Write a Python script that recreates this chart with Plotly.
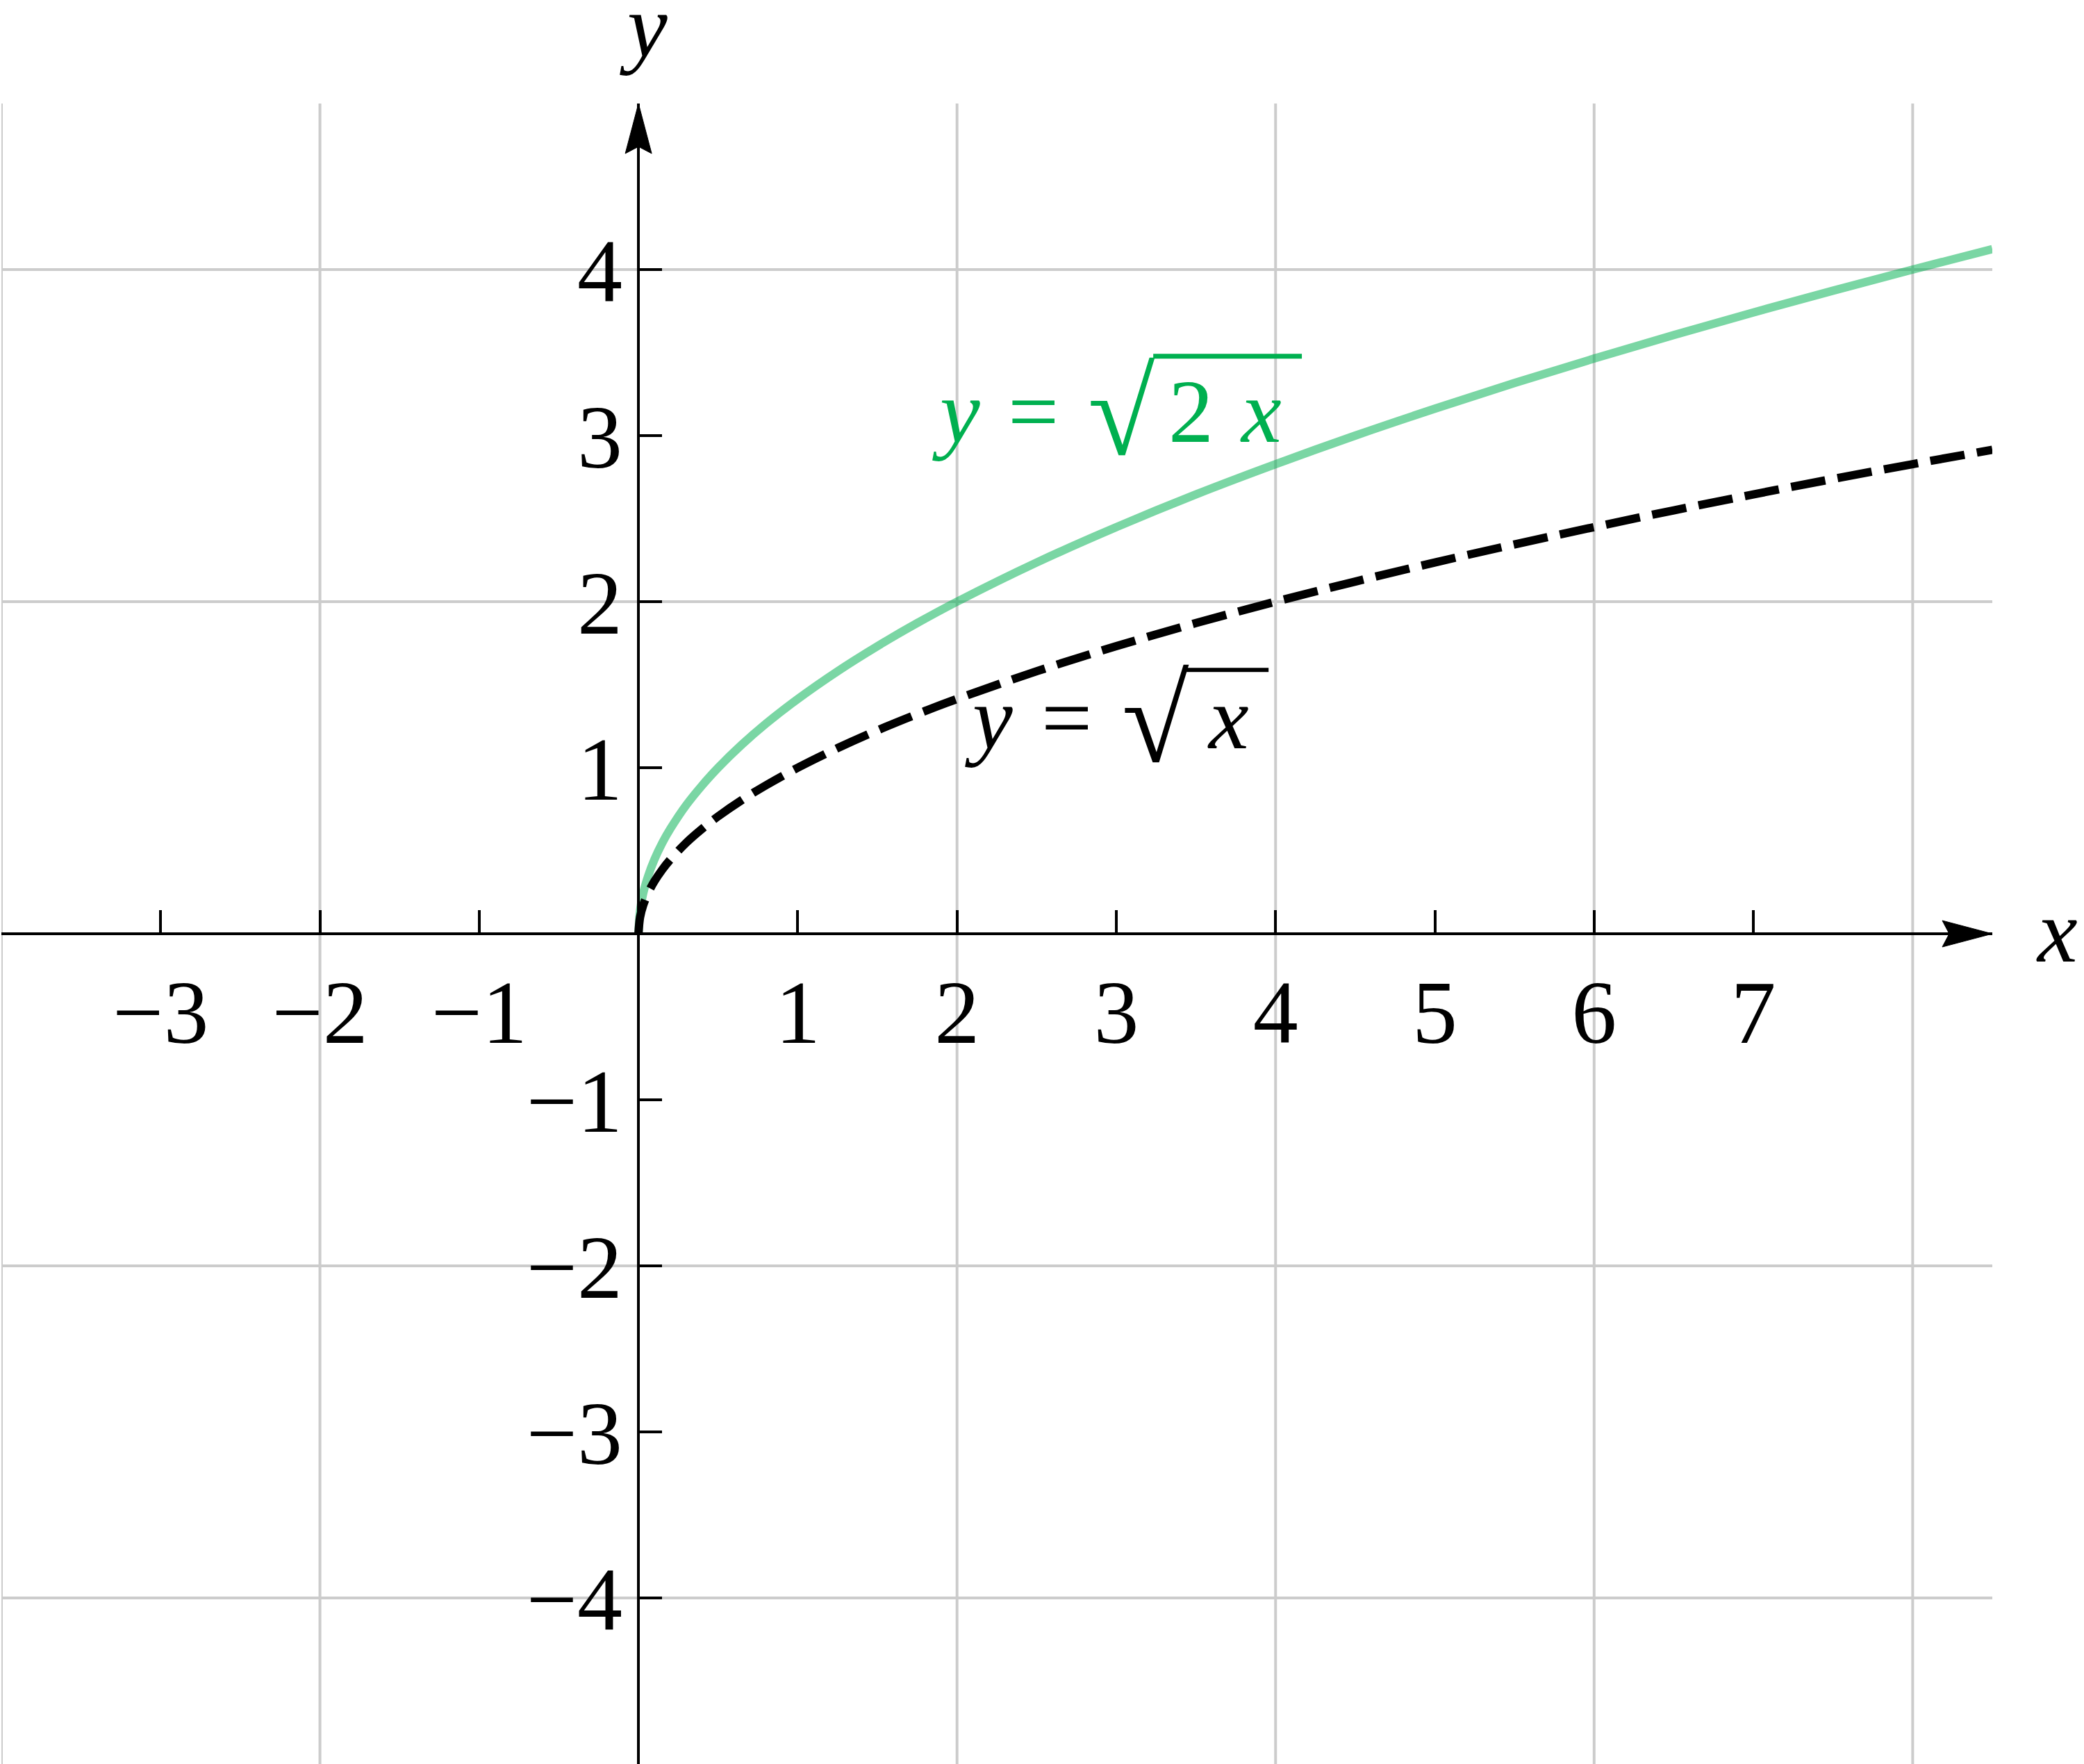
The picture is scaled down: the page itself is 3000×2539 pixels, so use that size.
import plotly.graph_objects as go

# ---- data ----
x_vals = [0, 0.01, 0.03, 0.06, 0.1, 0.15, 0.2, 0.3, 0.4, 0.5, 0.65, 0.8, 1, 1.25, 1.5,
          1.75, 2, 2.5, 3, 3.5, 4, 4.5, 5, 5.5, 6, 6.5, 7, 7.5, 8, 8.5]
y_sqrt2x = [0, 0.141, 0.245, 0.346, 0.447, 0.548, 0.632, 0.775, 0.894, 1.0, 1.14, 1.265,
            1.414, 1.581, 1.732, 1.871, 2.0, 2.236, 2.449, 2.646, 2.828, 3.0, 3.162, 3.317,
            3.464, 3.606, 3.742, 3.873, 4.0, 4.123]
y_sqrtx = [0, 0.1, 0.173, 0.245, 0.316, 0.387, 0.447, 0.548, 0.632, 0.707, 0.806, 0.894,
           1.0, 1.118, 1.225, 1.323, 1.414, 1.581, 1.732, 1.871, 2.0, 2.121, 2.236, 2.345,
           2.449, 2.55, 2.646, 2.739, 2.828, 2.915]

x_ticks = [-3, -2, -1, 1, 2, 3, 4, 5, 6, 7]
y_ticks = [-4, -3, -2, -1, 1, 2, 3, 4]
x_grid = [-4, -2, 2, 4, 6, 8]
y_grid = [-4, -2, 2, 4]
x_range = [-4, 8.5]
y_range = [-5, 5]

FONT = "Liberation Serif"
GREEN = "#00b050"
GRID = "#cccccc"
FS = 130
RAD_FS = 176

fig = go.Figure()

fig.add_trace(go.Scatter(
    x=x_vals, y=y_sqrt2x, mode="lines",
    line=dict(color="rgba(0,176,80,0.52)", width=12, shape="spline"),
    showlegend=False, hoverinfo="skip"))
fig.add_trace(go.Scatter(
    x=x_vals, y=y_sqrtx, mode="lines",
    line=dict(color="black", width=12, dash="50px,18px", shape="spline"),
    showlegend=False, hoverinfo="skip"))

shapes = []
for gx in x_grid:
    shapes.append(dict(type="line", xref="x", yref="y", x0=gx, x1=gx,
                       y0=y_range[0], y1=y_range[1], layer="below",
                       line=dict(color=GRID, width=4)))
for gy in y_grid:
    shapes.append(dict(type="line", xref="x", yref="y", y0=gy, y1=gy,
                       x0=x_range[0], x1=x_range[1], layer="below",
                       line=dict(color=GRID, width=4)))
# arrow heads
shapes.append(dict(type="path", xref="x", yref="y", xsizemode="pixel", ysizemode="pixel",
                   xanchor=x_range[1], yanchor=0,
                   path="M 0,0 L -72,19 L -62,0 L -72,-19 Z",
                   fillcolor="black", line=dict(color="black", width=1), layer="above"))
shapes.append(dict(type="path", xref="x", yref="y", xsizemode="pixel", ysizemode="pixel",
                   xanchor=0, yanchor=y_range[1],
                   path="M 0,0 L 19,-72 L 0,-62 L -19,-72 Z",
                   fillcolor="black", line=dict(color="black", width=1), layer="above"))
# radical vincula of the two equation labels
shapes.append(dict(type="line", xref="x", yref="y", x0=3.232, x1=4.165, y0=3.478, y1=3.478,
                   line=dict(color=GREEN, width=7), layer="above"))
shapes.append(dict(type="line", xref="x", yref="y", x0=3.441, x1=3.956, y0=1.589, y1=1.589,
                   line=dict(color="black", width=6), layer="above"))


def txt(x, y, s, color="black", size=FS, **kw):
    d = dict(x=x, y=y, xref="x", yref="y", text=s, showarrow=False,
             xanchor="center", yanchor="middle",
             font=dict(family=FONT, size=size, color=color))
    d.update(kw)
    return d


annotations = [
    txt(x_range[1], 0, "<i>x</i>", xshift=93, yshift=4),
    txt(0, y_range[1], "<i>y</i>", xshift=7, yshift=112),
    # y = sqrt(2 x)
    txt(1.993, 3.148, "<i>y</i>", GREEN),
    txt(2.481, 3.148, "=", GREEN),
    txt(3.035, 3.137, "√", GREEN, RAD_FS),
    txt(3.471, 3.148, "2", GREEN),
    txt(3.908, 3.148, "<i>x</i>", GREEN),
    # y = sqrt(x)
    txt(2.198, 1.300, "<i>y</i>"),
    txt(2.690, 1.300, "="),
    txt(3.245, 1.285, "√", size=RAD_FS),
    txt(3.703, 1.300, "<i>x</i>"),
]

fig.update_layout(
    width=3000, height=2539,
    margin=dict(l=2, r=132, t=149, b=0, pad=0),
    paper_bgcolor="white", plot_bgcolor="white",
    shapes=shapes, annotations=annotations,
    xaxis=dict(range=x_range, showgrid=False, zeroline=False,
               anchor="free", position=0.5,
               showline=True, linecolor="black", linewidth=4,
               tickmode="array", tickvals=x_ticks,
               ticks="inside", ticklen=32, tickwidth=4, tickcolor="black",
               tickfont=dict(family=FONT, size=FS, color="black"),
               ticklabelstandoff=-1),
    yaxis=dict(range=y_range, showgrid=False, zeroline=False,
               anchor="free", position=0.32,
               showline=True, linecolor="black", linewidth=4,
               tickmode="array", tickvals=y_ticks,
               ticks="inside", ticklen=32, tickwidth=4, tickcolor="black",
               tickfont=dict(family=FONT, size=FS, color="black"),
               ticklabelstandoff=-5),
)

fig.write_html("out.html", config={"displayModeBar": False},
               post_script="document.body.style.margin='0px';")
